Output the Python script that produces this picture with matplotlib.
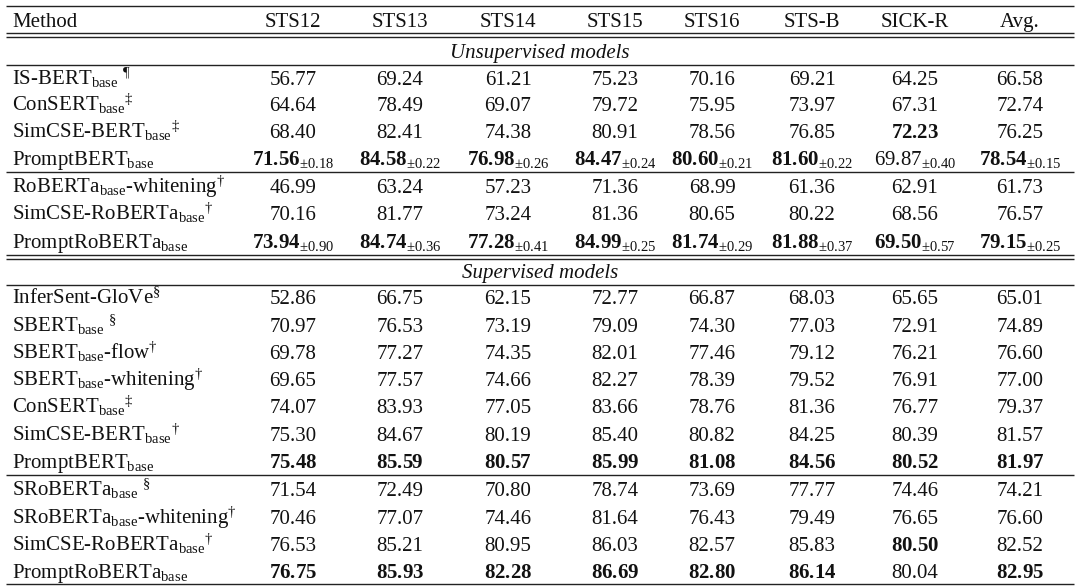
import matplotlib
matplotlib.use("Agg")
import matplotlib.pyplot as plt

plt.rcParams['font.family'] = ['Liberation Serif', 'DejaVu Serif']
plt.rcParams['mathtext.fontset'] = 'custom'
plt.rcParams['mathtext.rm'] = 'Liberation Serif'
plt.rcParams['mathtext.it'] = 'Liberation Serif:italic'
plt.rcParams['mathtext.bf'] = 'Liberation Serif:bold'

columns = ["STS12", "STS13", "STS14", "STS15", "STS16", "STS-B", "SICK-R", "Avg."]

B = r"$_{\mathrm{base}}$"
unsup_methods = ["IS-BERT" + B + r" $^{\P}$", "ConSERT" + B + r"$^{\ddagger}$",
                 "SimCSE-BERT" + B + r"$^{\ddagger}$", "PromptBERT" + B,
                 "RoBERTa" + B + r"-whitening$^{\dagger}$", "SimCSE-RoBERTa" + B + r"$^{\dagger}$",
                 "PromptRoBERTa" + B]
unsup_values = [
    [56.77, 69.24, 61.21, 75.23, 70.16, 69.21, 64.25, 66.58],
    [64.64, 78.49, 69.07, 79.72, 75.95, 73.97, 67.31, 72.74],
    [68.40, 82.41, 74.38, 80.91, 78.56, 76.85, 72.23, 76.25],
    [71.56, 84.58, 76.98, 84.47, 80.60, 81.60, 69.87, 78.54],
    [46.99, 63.24, 57.23, 71.36, 68.99, 61.36, 62.91, 61.73],
    [70.16, 81.77, 73.24, 81.36, 80.65, 80.22, 68.56, 76.57],
    [73.94, 84.74, 77.28, 84.99, 81.74, 81.88, 69.50, 79.15],
]
unsup_std = [None, None, None,
             [0.18, 0.22, 0.26, 0.24, 0.21, 0.22, 0.40, 0.15],
             None, None,
             [0.90, 0.36, 0.41, 0.25, 0.29, 0.37, 0.57, 0.25]]
unsup_bold = [[0]*8, [0]*8, [0, 0, 0, 0, 0, 0, 1, 0],
              [1, 1, 1, 1, 1, 1, 0, 1], [0]*8, [0]*8, [1]*8]

sup_methods = ["InferSent-GloVe" + r"$^{\S}$", "SBERT" + B + r" $^{\S}$",
               "SBERT" + B + r"-flow$^{\dagger}$", "SBERT" + B + r"-whitening$^{\dagger}$",
               "ConSERT" + B + r"$^{\ddagger}$", "SimCSE-BERT" + B + r"$^{\dagger}$",
               "PromptBERT" + B, "SRoBERTa" + B + r" $^{\S}$",
               "SRoBERTa" + B + r"-whitening$^{\dagger}$", "SimCSE-RoBERTa" + B + r"$^{\dagger}$",
               "PromptRoBERTa" + B]
sup_values = [
    [52.86, 66.75, 62.15, 72.77, 66.87, 68.03, 65.65, 65.01],
    [70.97, 76.53, 73.19, 79.09, 74.30, 77.03, 72.91, 74.89],
    [69.78, 77.27, 74.35, 82.01, 77.46, 79.12, 76.21, 76.60],
    [69.65, 77.57, 74.66, 82.27, 78.39, 79.52, 76.91, 77.00],
    [74.07, 83.93, 77.05, 83.66, 78.76, 81.36, 76.77, 79.37],
    [75.30, 84.67, 80.19, 85.40, 80.82, 84.25, 80.39, 81.57],
    [75.48, 85.59, 80.57, 85.99, 81.08, 84.56, 80.52, 81.97],
    [71.54, 72.49, 70.80, 78.74, 73.69, 77.77, 74.46, 74.21],
    [70.46, 77.07, 74.46, 81.64, 76.43, 79.49, 76.65, 76.60],
    [76.53, 85.21, 80.95, 86.03, 82.57, 85.83, 80.50, 82.52],
    [76.75, 85.93, 82.28, 86.69, 82.80, 86.14, 80.04, 82.95],
]
sup_bold = [[0]*8]*6 + [[1]*8] + [[0]*8]*2 + [[0, 0, 0, 0, 0, 0, 1, 0], [1, 1, 1, 1, 1, 1, 0, 1]]

fig = plt.figure(figsize=(10.8, 5.88), dpi=100)
ax = fig.add_axes([0, 0, 1, 1])
ax.set_xlim(0, 1080)
ax.set_ylim(588, 0)
ax.axis('off')

FS = 15
col_x = [293, 400, 508, 615, 712, 812, 915, 1020]
XL, XR = 6, 1074
DY = 7  # baseline offset from row centre

def hline(y, lw=1.0):
    ax.plot([XL, XR], [y, y], color='#222', lw=lw, solid_capstyle='butt')

def txt(x, y, s, ha, **kw):
    ax.text(x, y + DY, s, ha=ha, va='baseline', fontsize=FS, color='#111', **kw)

def cell(x, y, v, bold, std):
    s = f"{v:.2f}"
    t = (r"$\mathbf{" + s + "}$") if bold else s
    if std is not None:
        t += r"$_{\pm " + f"{std:.2f}" + "}$"
    txt(x, y, t, 'center')

# header
txt(12, 20, "Method", 'left')
for x, c in zip(col_x, columns):
    txt(x, 20, c, 'center')
hline(6); hline(33); hline(37)
txt(540, 51, "Unsupervised models", 'center', style='italic')
hline(65)

unsup_y = [78, 104, 131, 158, 186, 213, 241]
for i, y in enumerate(unsup_y):
    txt(12, y, unsup_methods[i], 'left')
    for j, x in enumerate(col_x):
        std = unsup_std[i][j] if unsup_std[i] else None
        cell(x, y, unsup_values[i][j], unsup_bold[i][j], std)
hline(172)
hline(255); hline(259)
txt(540, 271, "Supervised models", 'center', style='italic')
hline(285)

sup_y = [297, 325, 352, 379, 406, 434, 461, 489, 517, 544, 571]
for i, y in enumerate(sup_y):
    txt(12, y, sup_methods[i], 'left')
    for j, x in enumerate(col_x):
        cell(x, y, sup_values[i][j], sup_bold[i][j], None)
hline(475)
hline(584)

fig.savefig("out.png", dpi=100, facecolor='white')
